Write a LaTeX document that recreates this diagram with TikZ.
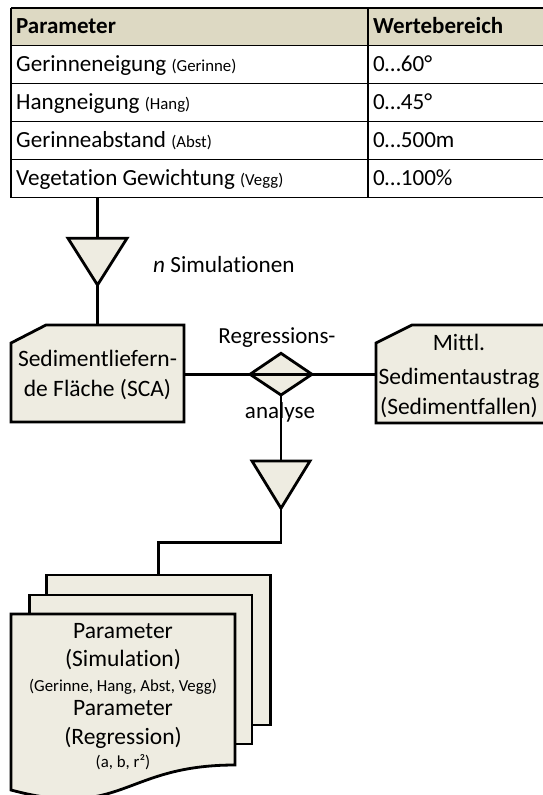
\documentclass[tikz,border=0pt]{standalone}
\usepackage{fontspec}
\setmainfont[Ligatures={NoCommon}]{Carlito}
\definecolor{fillc}{HTML}{EEECE1}
\definecolor{headc}{HTML}{DDD9C3}
\tikzset{
  shapeline/.style={draw=black, line width=2.8pt, fill=fillc, line join=miter},
  conn/.style={draw=black, line width=2.6pt},
  gridline/.style={draw=black, line width=1.8pt},
  cell/.style={anchor=base west, inner sep=0pt, font=\fontsize{23.1}{27}\selectfont},
  headcell/.style={cell, font=\fontsize{23}{27}\selectfont\bfseries},
  bigtxt/.style={anchor=base, inner sep=0pt, font=\fontsize{23.5}{29}\selectfont},
  smalltxt/.style={anchor=base, inner sep=0pt, font=\fontsize{16.8}{20}\selectfont}
}
\newcommand{\sm}[1]{{\fontsize{16.8}{20}\selectfont #1}}
\begin{document}
\begin{tikzpicture}[x=1pt,y=-1pt]
\useasboundingbox (0,0) rectangle (542,795);
% ---------- table ----------
\fill[headc] (11,8) rectangle (570,45.5);
\foreach \yy in {8,45.5,83.5,121.5,159.5,197.5}
  \draw[gridline] (11,\yy) -- (570,\yy);
\draw[gridline] (11,8) -- (11,197.5);
\draw[gridline] (368,8) -- (368,197.5);
\node[headcell] (h1) at (16,33.5) {Parameter};
\node[headcell] (h2) at (373,33.5) {Wertebereich};
\node[cell] (r1a) at (16,71.5) {Gerinneneigung \sm{(Gerinne)}};
\node[cell] (r1b) at (373,71.5) {0…60°};
\node[cell] (r2a) at (16,109.5) {Hangneigung \sm{(Hang)}};
\node[cell] (r2b) at (373,109.5) {0…45°};
\node[cell] (r3a) at (16,147.5) {Gerinneabstand \sm{(Abst)}};
\node[cell] (r3b) at (373,147.5) {0…500m};
\node[cell] (r4a) at (16,185.5) {Vegetation Gewichtung \sm{(Vegg)}};
\node[cell] (r4b) at (373,185.5) {0…100\%};
% ---------- coordinates ----------
\coordinate (tabout) at (97.5,197.5);
\coordinate (t1top) at (97.5,238.3);
\coordinate (t1tip) at (97.5,285);
\coordinate (scatop) at (97.5,325);
\coordinate (scaeast) at (184,374.3);
\coordinate (diaw) at (250,374.3);
\coordinate (dian) at (281,353.3);
\coordinate (diae) at (312,374.3);
\coordinate (dias) at (281,395);
\coordinate (mittlwest) at (376,374.3);
\coordinate (t2top) at (281,461);
\coordinate (t2tip) at (281,508.3);
\coordinate (bend1) at (281,542.7);
\coordinate (bend2) at (158.3,542.7);
\coordinate (doctop) at (158.3,575);
% ---------- first triangle ----------
\draw[conn] (tabout) -- (t1top);
\draw[shapeline] (68,238.3) -- (127,238.3) -- (t1tip) -- cycle;
\node[anchor=base west, inner sep=0pt, font=\fontsize{23.2}{28}\selectfont] (nsim) at (153,272.5) {\textit{n} Simulationen};
\draw[conn] (t1tip) -- (scatop);
% ---------- SCA box ----------
\draw[shapeline] (46,325) -- (184,325) -- (184,422) -- (11,422) -- (11,343) -- cycle;
\node[bigtxt] (sca1) at (97.5,366.7) {Sedimentliefern-};
\node[bigtxt] (sca2) at (97.5,396) {de Fläche (SCA)};
% ---------- Mittl box ----------
\draw[shapeline] (412,325) -- (560,325) -- (560,423) -- (376,423) -- (376,343) -- cycle;
\node[bigtxt] (m1) at (459,350.5) {Mittl.};
\node[bigtxt] (m2) at (459,384) {Sedimentaustrag};
\node[bigtxt] (m3) at (459,414) {(Sedimentfallen)};
% ---------- diamond ----------
\draw[shapeline] (diaw) -- (dian) -- (diae) -- (dias) -- cycle;
\draw[conn] (scaeast) -- (mittlwest);
\node[bigtxt, font=\fontsize{23}{28}\selectfont] (reg1) at (277,343.3) {Regressions-};
\node[bigtxt, font=\fontsize{23}{28}\selectfont] (reg2) at (280,418.3) {analyse};
\draw[conn] (dias) -- (t2top);
% ---------- second triangle ----------
\draw[shapeline] (252,461) -- (310,461) -- (t2tip) -- cycle;
\draw[conn] (t2tip) -- (bend1) -- (bend2) -- (doctop);
% ---------- documents ----------
\draw[shapeline] (46.7,575) rectangle (270.7,725);
\draw[shapeline] (29.3,595) rectangle (252,744);
\draw[shapeline] (11,614) -- (235,614) -- (235,765) .. controls (123,765) and (123,820) .. (11,790) -- cycle;
\node[bigtxt] (d1) at (123,638.3) {Parameter};
\node[bigtxt] (d2) at (123,666.6) {(Simulation)};
\node[smalltxt] (d3) at (123,691) {(Gerinne, Hang, Abst, Vegg)};
\node[bigtxt] (d4) at (123,715.5) {Parameter};
\node[bigtxt] (d5) at (123,744) {(Regression)};
\node[smalltxt] (d6) at (123,767) {(a, b, r²)};
\end{tikzpicture}
\end{document}
